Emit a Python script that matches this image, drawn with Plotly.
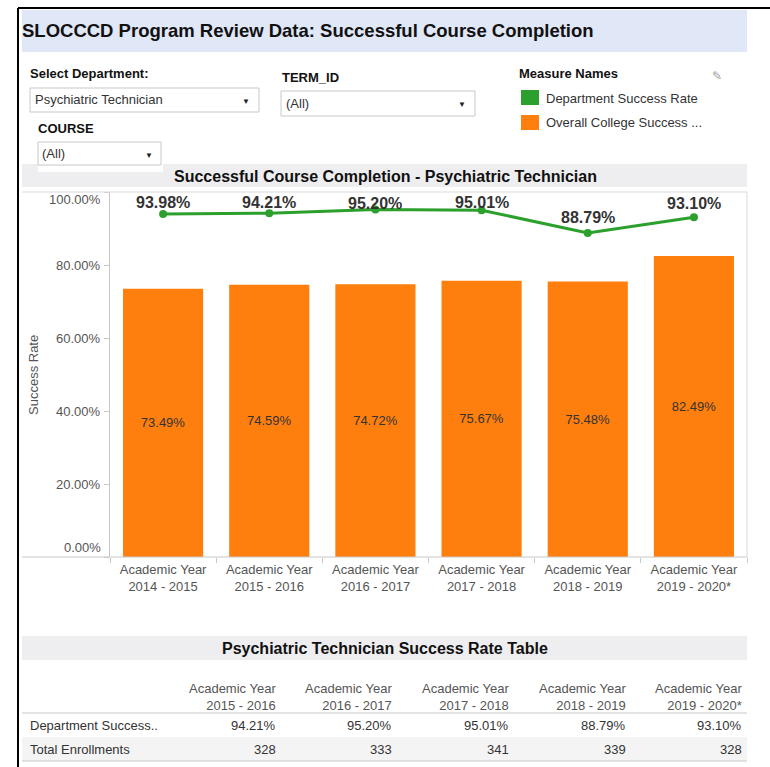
import plotly.graph_objects as go

# ---------------- data ----------------
years = ["2014 - 2015", "2015 - 2016", "2016 - 2017", "2017 - 2018", "2018 - 2019", "2019 - 2020*"]
dept_success = [93.98, 94.21, 95.20, 95.01, 88.79, 93.10]
college_success = [73.49, 74.59, 74.72, 75.67, 75.48, 82.49]
y_ticks = [0, 20, 40, 60, 80, 100]
y_tick_labels = ["0.00%", "20.00%", "40.00%", "60.00%", "80.00%", "100.00%"]

table_years = ["2015 - 2016", "2016 - 2017", "2017 - 2018", "2018 - 2019", "2019 - 2020*"]
table_dept_success = [94.21, 95.20, 95.01, 88.79, 93.10]
table_enrollments = [328, 333, 341, 339, 328]

series_names = ["Department Success Rate", "Overall College Success ..."]
department = "Psychiatric Technician"

# ---------------- helpers ----------------
W, H = 770, 767
FONT = "Liberation Sans, Arial, sans-serif"
GREEN = "#2ca02c"
ORANGE = "#ff7f0e"
PLOT_TOP, PLOT_BOTTOM = 192, 557
FS = 13


def px(x):
    return x / W


def py(y):
    return 1 - y / H


categories = ["Academic Year<br>" + y for y in years]

fig = go.Figure()
fig.add_trace(go.Bar(
    x=categories, y=college_success, name=series_names[1],
    marker=dict(color=ORANGE, line=dict(width=0)),
    width=0.755,
    text=[f"{v:.2f}%" for v in college_success],
    textposition="inside", insidetextanchor="middle", textangle=0,
    textfont=dict(family=FONT, size=FS, color="#333333"),
))
fig.add_trace(go.Scatter(
    x=categories, y=dept_success, name=series_names[0], mode="lines+markers",
    line=dict(color=GREEN, width=3), marker=dict(color=GREEN, size=8),
))

shapes = []
annotations = []

# line value labels: 15px above the point, but kept inside the pane top
for c, v in zip(categories, dept_success):
    point_px = PLOT_BOTTOM - v / 100 * (PLOT_BOTTOM - PLOT_TOP)
    shift = min(15, point_px - 203)
    annotations.append(dict(xref="x", yref="y", x=c, y=v, text=f"<b>{v:.2f}%</b>",
                            showarrow=False, xanchor="center", yanchor="middle", yshift=shift,
                            font=dict(family=FONT, size=16, color="#333333")))


def rect(x0, y0, x1, y1, fill, line=None, lw=1):
    shapes.append(dict(type="rect", xref="paper", yref="paper",
                       x0=px(x0), x1=px(x1), y0=py(y1), y1=py(y0),
                       fillcolor=fill, line=dict(color=line or fill, width=lw if line else 0),
                       layer="below"))


def hline(x0, x1, y, color, w=1):
    shapes.append(dict(type="line", xref="paper", yref="paper", x0=px(x0), x1=px(x1),
                       y0=py(y), y1=py(y), line=dict(color=color, width=w)))


def vline(x, y0, y1, color, w=1):
    shapes.append(dict(type="line", xref="paper", yref="paper", x0=px(x), x1=px(x),
                       y0=py(y0), y1=py(y1), line=dict(color=color, width=w)))


def text(x, y, s, size=FS, color="#333333", bold=False, xanchor="left", align="left", angle=0):
    if bold:
        s = f"<b>{s}</b>"
    annotations.append(dict(xref="paper", yref="paper", x=px(x), y=py(y), text=s,
                            showarrow=False, xanchor=xanchor, yanchor="middle", align=align,
                            textangle=angle, borderpad=0,
                            font=dict(family=FONT, size=size, color=color)))


# frame
hline(18, 770, 8, "#000000", 2)
vline(18, 8, 767, "#000000", 2)

# header band
rect(22, 10, 747, 52, "#e0e7f7")
text(21, 30, "SLOCCCD Program Review Data: Successful Course Completion", 18.5, "#111111", True)

# filters
text(29, 74, "Select Department:", FS, "#111111", True)
rect(30, 88, 259, 112, "#ffffff", "#c8c8c8")
text(34, 100, department, FS, "#333333")
text(246, 101, "▼", 8, "#222222", xanchor="center")

text(281, 78, "TERM_ID", FS, "#111111", True)
rect(281, 91, 475, 116, "#ffffff", "#c8c8c8")
text(285, 104, "(All)", FS, "#333333")
text(462, 105, "▼", 8, "#222222", xanchor="center")

text(37, 128, "COURSE", FS, "#111111", True)

# legend
text(518, 74, "Measure Names", FS, "#111111", True)
rect(521, 90, 539, 105, GREEN)
text(545, 98, series_names[0], FS, "#333333")
rect(521, 115, 539, 130, ORANGE)
text(545, 123, series_names[1], FS, "#333333")
text(717, 76, "✎", 12, "#999999", xanchor="center")

# chart title band
rect(22, 164, 747, 187, "#eeeef0")
text(385, 176, f"Successful Course Completion - {department}", 16, "#111111", True, xanchor="center")

# course dropdown (sits over band)
rect(38, 142, 163, 172, "#ffffff")
rect(38, 142, 161, 165, "#ffffff", "#c8c8c8")
text(41, 154, "(All)", FS, "#333333")
text(149, 155, "▼", 8, "#222222", xanchor="center")

# chart frame lines
hline(22, 747, PLOT_TOP, "#d9d9d9")
vline(747, PLOT_TOP, PLOT_BOTTOM, "#d9d9d9")
hline(22, 747, PLOT_BOTTOM, "#c8c8c8")

# y tick labels (Tableau nudges the end labels inward)
for tv, tl in zip(y_ticks, y_tick_labels):
    shift = 10 if tv == y_ticks[0] else (-8 if tv == y_ticks[-1] else 0)
    annotations.append(dict(xref="paper", yref="y", x=px(102), y=tv, text=tl, showarrow=False,
                            xanchor="right", yanchor="middle", yshift=shift, borderpad=0,
                            font=dict(family=FONT, size=FS, color="#555555")))

# y title
text(33, 375, "Success Rate", FS, "#555555", xanchor="center", angle=-90)

# table
rect(22, 636, 747, 660, "#eeeef0")
text(385, 648, f"{department} Success Rate Table", 16, "#111111", True, xanchor="center")
col_right = [277, 393, 510, 627, 743]
for xr, yr in zip(col_right, table_years):
    text(xr, 697, "Academic Year<br>" + yr, FS, "#555555", xanchor="right", align="right")
hline(22, 747, 713, "#c8c8c8")
rect(22, 737, 747, 761, "#f4f4f4")
hline(22, 747, 761, "#c8c8c8")
text(29, 725, "Department Success..", FS, "#333333")
text(29, 749, "Total Enrollments", FS, "#333333")
for xr, v in zip(col_right, table_dept_success):
    text(xr, 725, f"{v:.2f}%", FS, "#333333", xanchor="right")
for xr, v in zip(col_right, table_enrollments):
    text(xr, 749, f"{v}", FS, "#333333", xanchor="right")

fig.update_layout(
    width=W, height=H, margin=dict(l=0, r=0, t=0, b=0),
    paper_bgcolor="#ffffff", plot_bgcolor="#ffffff",
    showlegend=False, bargap=0.245,
    shapes=shapes, annotations=annotations,
    font=dict(family=FONT),
    xaxis=dict(domain=[px(110), px(747)], type="category", tickson="boundaries",
               ticks="outside", ticklen=5, tickcolor="#c8c8c8", showline=False,
               showgrid=False, tickfont=dict(family=FONT, size=FS, color="#555555"),
               ticklabelstandoff=3, fixedrange=True),
    yaxis=dict(domain=[py(PLOT_BOTTOM), py(PLOT_TOP)], range=[0, 100], tickvals=y_ticks,
               showticklabels=False, ticks="outside", ticklen=5, tickcolor="#c8c8c8",
               showline=True, linecolor="#c8c8c8", linewidth=1, showgrid=False,
               zeroline=False, fixedrange=True),
)

css = ("var s=document.createElement('style');"
       "s.textContent='html,body{margin:0;padding:0;overflow:hidden;height:767px;}';"
       "document.head.appendChild(s);")
fig.write_html("out.html", config={"displayModeBar": False}, post_script=css)
